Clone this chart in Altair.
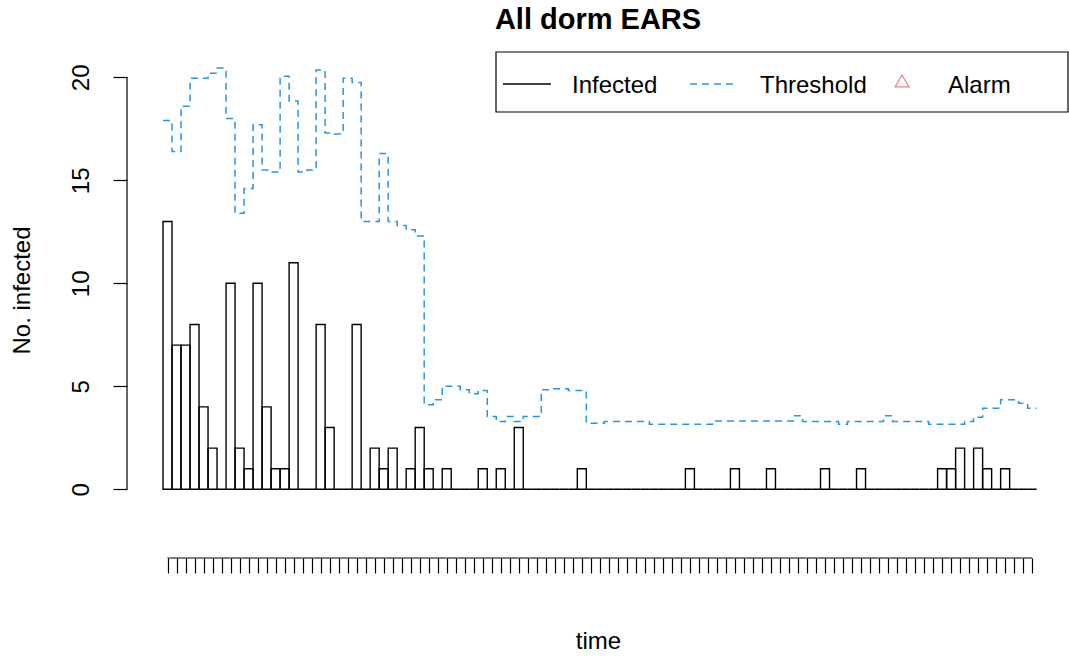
import altair as alt
import pandas as pd

# ---------------- data ----------------
weeks = list(range(1, 98))
infected = [
    13, 7, 7, 8, 4, 2, 0, 10, 2, 1,
    10, 4, 1, 1, 11, 0, 0, 8, 3, 0,
    0, 8, 0, 2, 1, 2, 0, 1, 3, 1,
    0, 1, 0, 0, 0, 1, 0, 1, 0, 3,
    0, 0, 0, 0, 0, 0, 1, 0, 0, 0,
    0, 0, 0, 0, 0, 0, 0, 0, 1, 0,
    0, 0, 0, 1, 0, 0, 0, 1, 0, 0,
    0, 0, 0, 1, 0, 0, 0, 1, 0, 0,
    0, 0, 0, 0, 0, 0, 1, 1, 2, 0,
    2, 1, 0, 1, 0, 0, 0,
]
threshold = [
    17.9, 16.4, 18.6, 19.95, 19.95, 20.2, 20.45, 18.0, 13.4, 14.6,
    17.7, 15.5, 15.4, 20.05, 18.85, 15.4, 15.5, 20.35, 17.3, 17.25,
    19.95, 19.75, 13.0, 13.0, 16.3, 13.0, 12.8, 12.6, 12.3, 4.1,
    4.35, 5.0, 5.0, 4.83, 4.64, 4.8, 3.53, 3.29, 3.53, 3.29,
    3.53, 3.53, 4.83, 4.88, 4.88, 4.8, 4.8, 3.21, 3.21, 3.29,
    3.29, 3.29, 3.29, 3.29, 3.16, 3.16, 3.16, 3.16, 3.16, 3.16,
    3.16, 3.32, 3.32, 3.32, 3.32, 3.32, 3.32, 3.32, 3.32, 3.32,
    3.57, 3.29, 3.29, 3.29, 3.29, 3.16, 3.29, 3.29, 3.29, 3.29,
    3.57, 3.29, 3.29, 3.29, 3.29, 3.16, 3.16, 3.16, 3.16, 3.29,
    3.5, 3.94, 3.94, 4.35, 4.35, 4.18, 3.94,
]
y_ticks = [0, 5, 10, 15, 20]
legend_labels = ["Infected", "Threshold", "Alarm"]
title_text = "All dorm EARS"
x_title = "time"
y_title = "No. infected"

assert len(infected) == len(weeks) == len(threshold)

# ---------------- layout / style ----------------
FONT = "Liberation Sans"
W, H = 942, 506
PAD = {"left": 127, "top": 52, "right": 0, "bottom": 98}
X_DOMAIN = [-3.497, 101.09]
Y_DOMAIN = [-3.335, 21.228]
BLUE = "#2297E6"
RED = "#DF536B"
FS = 24

xscale = alt.Scale(domain=X_DOMAIN, nice=False, zero=False)
yscale = alt.Scale(domain=Y_DOMAIN, nice=False, zero=False)

bars_df = pd.DataFrame({
    "week": weeks,
    "start": [w - 0.5 for w in weeks],
    "end": [w + 0.5 for w in weeks],
    "infected": infected,
})
thr_df = pd.DataFrame({
    "x": [w - 0.5 for w in weeks] + [weeks[-1] + 0.5],
    "thr": threshold + [threshold[-1]],
})
one = pd.DataFrame({"k": [0]})

x_axis = alt.Axis(
    values=weeks, labels=False, domain=False, grid=False,
    tickSize=15, tickColor="black", tickWidth=1.2,
    title=x_title, titleFont=FONT, titleFontSize=FS, titleFontWeight="normal",
    titleColor="black", titleBaseline="alphabetic", titleY=90,
)
y_axis = alt.Axis(
    values=y_ticks, domain=False, grid=False,
    tickSize=14, tickColor="black", tickWidth=1.2,
    labelFont=FONT, labelFontSize=FS, labelColor="black",
    labelAngle=270, labelAlign="center", labelBaseline="alphabetic",
    labelPadding=25,
    title=y_title, titleFont=FONT, titleFontSize=FS, titleFontWeight="normal",
    titleColor="black", titleAngle=270, titleAlign="center",
    titleBaseline="alphabetic", titleX=-98, titleY=238,
)

bars = alt.Chart(bars_df).mark_rect(
    fill="white", fillOpacity=0, stroke="black", strokeWidth=1.4
).encode(
    x=alt.X("start:Q", scale=xscale, axis=x_axis),
    x2="end:Q",
    y=alt.Y("infected:Q", scale=yscale, axis=y_axis),
    y2=alt.datum(0),
)

thr_line = alt.Chart(thr_df).mark_line(
    interpolate="step-after", color=BLUE, strokeWidth=1.5, strokeDash=[7, 5]
).encode(
    x=alt.X("x:Q", scale=xscale, axis=x_axis),
    y=alt.Y("thr:Q", scale=yscale, axis=y_axis),
)

y_axis_line = alt.Chart(one).mark_rule(color="black", strokeWidth=1.2).encode(
    x=alt.value(0),
    y=alt.Y(datum=y_ticks[0], scale=yscale, axis=y_axis),
    y2=alt.datum(y_ticks[-1]),
)
x_axis_line = alt.Chart(one).mark_rule(color="black", strokeWidth=1.2).encode(
    x=alt.X(datum=weeks[0], scale=xscale, axis=x_axis),
    x2=alt.datum(weeks[-1]),
    y=alt.value(H),
)

# ---------------- legend (drawn like R's legend box) ----------------
leg_box = alt.Chart(one).mark_rect(
    fill="white", fillOpacity=0, stroke="black", strokeWidth=1.2
).encode(x=alt.value(369), x2=alt.value(941), y=alt.value(0), y2=alt.value(60))
leg_solid = alt.Chart(one).mark_rule(color="black", strokeWidth=1.3).encode(
    x=alt.value(376), x2=alt.value(424), y=alt.value(32)
)
leg_dash = alt.Chart(one).mark_rule(color=BLUE, strokeWidth=1.5, strokeDash=[7, 5]).encode(
    x=alt.value(563), x2=alt.value(611), y=alt.value(32)
)
leg_tri = alt.Chart(one).mark_point(
    shape="triangle-up", filled=False, color=RED, size=190, strokeWidth=1.3
).encode(x=alt.value(775), y=alt.value(29))


def leg_text(label, xpos):
    return alt.Chart(one).mark_text(
        text=label, font=FONT, fontSize=FS, color="black",
        align="left", baseline="alphabetic",
    ).encode(x=alt.value(xpos), y=alt.value(41))


leg_texts = [leg_text(legend_labels[0], 445), leg_text(legend_labels[1], 633),
             leg_text(legend_labels[2], 821)]

chart = alt.layer(
    bars, thr_line, y_axis_line, x_axis_line,
    leg_box, leg_solid, leg_dash, leg_tri, *leg_texts,
).properties(
    width=W, height=H,
    title=alt.TitleParams(
        title_text, font=FONT, fontSize=29, fontWeight="bold", color="black",
        anchor="middle", frame="group", baseline="alphabetic", offset=-7,
    ),
    autosize=alt.AutoSizeParams(type="none"),
    padding=PAD,
).configure(background="white").configure_view(stroke=None)

chart.save("out.html", embed_options={"renderer": "svg", "actions": False})
